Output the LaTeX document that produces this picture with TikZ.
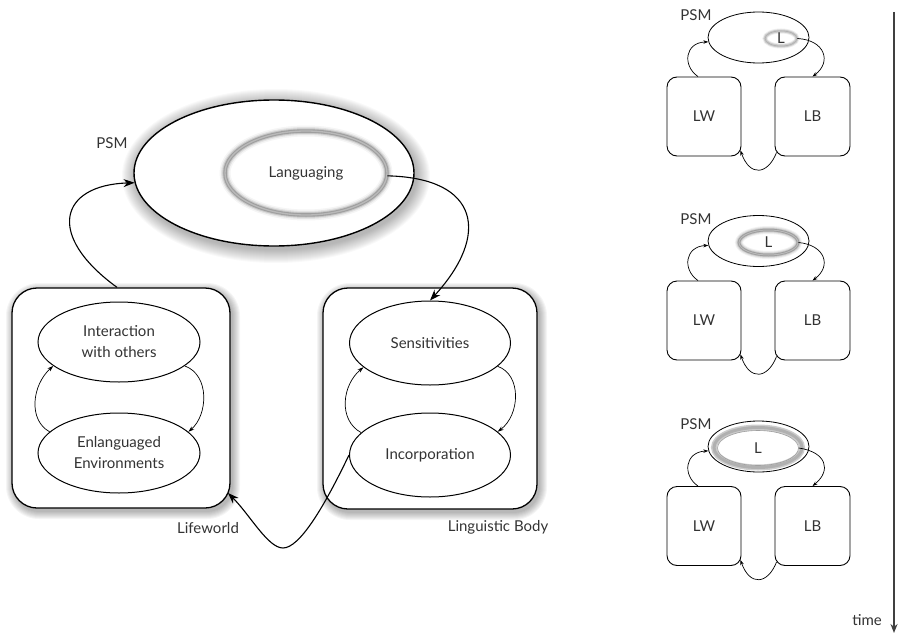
\documentclass[tikz,border=0pt]{standalone}
\usepackage{fontspec}
\setmainfont{Lato}
\usetikzlibrary{shapes.geometric,arrows.meta}
\begin{document}
\begin{tikzpicture}[x=1pt,y=-1pt,
  font=\fontsize{15}{21}\selectfont, text=black!80,
  ell/.style={ellipse, draw, line width=1pt, fill=white, inner sep=0pt, align=center},
  bigbox/.style={draw, line width=1.3pt, fill=white, rounded corners=25pt, inner sep=0pt},
  sbox/.style={draw, line width=0.9pt, fill=white, rounded corners=10pt, inner sep=0pt, minimum height=79pt},
  lab/.style={inner sep=0pt},
  bigarrow/.style={line width=1.1pt, -{Stealth[length=11pt,width=8pt]}},
  midarrow/.style={line width=0.7pt, -{Stealth[length=6pt,width=4pt]}},
  smallarrow/.style={line width=0.7pt, -{Stealth[length=5pt,width=3.5pt]}}]
\useasboundingbox (0,0) rectangle (899,634);

% ---------- main diagram: shadows ----------
\foreach \k [evaluate=\k as \rx using 140+\k, evaluate=\k as \ry using 73+\k] in {1,...,14}
  {\fill[black,opacity=0.025] (276,176) ellipse [x radius=\rx pt, y radius=\ry pt];}
\foreach \k [evaluate=\k as \r using 25+\k] in {1,...,8}
  {\fill[black,opacity=0.04,rounded corners=\r pt] ({12-\k+2},{288-\k+3}) rectangle ({230+\k+2},{508+\k+3});
   \fill[black,opacity=0.04,rounded corners=\r pt] ({323-\k+2},{288-\k+3}) rectangle ({537+\k+2},{509+\k+3});}

% ---------- main diagram: nodes ----------
\node[ell, line width=1.4pt, minimum width=280pt, minimum height=146pt] (psm) at (274,173) {};
\foreach \w/\o in {11/0.04, 8/0.07, 5.5/0.12, 3.5/0.2}
  {\draw[line width=\w pt, black, opacity=\o] (306,173) ellipse [x radius=81pt, y radius=42pt];}
\node[ellipse, draw=gray!55, line width=1.3pt, inner sep=0pt, minimum width=162pt, minimum height=84pt] (lang) at (306,173) {Languaging};
\node[lab] (psmlab) at (112,143) {PSM};

\node[bigbox, minimum width=218pt, minimum height=220pt] (lw) at (121,398) {};
\node[bigbox, minimum width=214pt, minimum height=221pt] (lb) at (430,398.5) {};
\node[ell, minimum width=162pt, minimum height=80pt] (int) at (119,342) {Interaction\\with others};
\node[ell, minimum width=162pt, minimum height=80pt] (enl) at (119,453) {Enlanguaged\\Environments};
\node[ell, minimum width=161pt, minimum height=84pt] (sens) at (430,343) {Sensitivities};
\node[ell, minimum width=161pt, minimum height=84pt] (inc) at (430,455) {Incorporation};
\node[lab] (lwlab) at (208,528) {Lifeworld};
\node[lab] (lblab) at (498,527) {Linguistic Body};

% ---------- main diagram: connectors ----------
\draw[bigarrow] ([xshift=-4pt]lw.north) .. controls (45,235) and (60,185) .. (psm.184);
\draw[bigarrow] (lang.-2) .. controls (480,178) and (490,235) .. (sens.north);
\coordinate (bot) at (283,548);
\coordinate (lwtip) at (228,493);
\draw[bigarrow] (inc.west) .. controls (325,505) and (300,548) .. (bot) .. controls (268,548) and (250,515) .. (lwtip);
\draw[midarrow] (enl.163) .. controls (28,420) and (32,385) .. (int.200);
\draw[midarrow] (int.-20) .. controls (210,375) and (208,415) .. (enl.17);
\draw[midarrow] (inc.162) .. controls (338,420) and (342,385) .. (sens.200);
\draw[midarrow] (sens.-19) .. controls (522,375) and (520,415) .. (inc.19);

% ---------- right column: three panels ----------
\foreach \n/\py/\by in {a/37.5/116.5, b/241/320.5, c/446.5/526} {
  \node[ell, line width=0.8pt, minimum width=101pt, minimum height=51pt] (psm\n) at (758.5,\py) {};
  \node[lab] (psmlab\n) at (696,{\py-22}) {PSM};
  \node[sbox, minimum width=74pt] (lw\n) at (704,\by) {LW};
  \node[sbox, minimum width=75pt] (lb\n) at (812.5,\by) {LB};
  \draw[smallarrow] ([xshift=-6pt]lw\n.north) .. controls (682,{\by-51}) and (685,{\by-74}) .. (psm\n.185);
  \draw[smallarrow] ([shift={(2,-4)}]lb\n.south west) .. controls (768,{\by+58}) and (750,{\by+61}) .. ([shift={(-1,-6)}]lw\n.south east);
}
% L in panel 1
\foreach \w/\o in {5/0.07, 3/0.14}
  {\draw[line width=\w pt, black, opacity=\o] (781,38.5) ellipse [x radius=16pt, y radius=7.5pt];}
\node[ellipse, draw=gray!60, line width=0.8pt, inner sep=0pt, minimum width=32pt, minimum height=15pt] (la) at (781,38.5) {L};
% L in panel 2
\foreach \w/\o in {8/0.05, 6/0.08, 4/0.13, 2.5/0.2}
  {\draw[line width=\w pt, black, opacity=\o] (768.5,242.5) ellipse [x radius=29.5pt, y radius=12.5pt];}
\node[ellipse, draw=gray!55, line width=1pt, inner sep=0pt, minimum width=59pt, minimum height=25pt] (lb2) at (768.5,242.5) {L};
% L in panel 3
\draw[line width=6pt, gray!40] (758,447.5) ellipse [x radius=44pt, y radius=20pt];
\draw[line width=3pt, gray!62] (758,447.5) ellipse [x radius=44pt, y radius=20pt];
\node[ellipse, draw=gray!75, line width=0.6pt, inner sep=0pt, minimum width=81pt, minimum height=35pt] (lc) at (758,448) {L};

\draw[smallarrow] (la.east) .. controls (825,40) and (832,62) .. (lba.north);
\draw[smallarrow] (lb2.east) .. controls (825,245) and (832,266) .. (lbb.north);
\draw[smallarrow] (lc.east) .. controls (826,452) and (832,470) .. (lbc.north);

% ---------- time axis ----------
\coordinate (t0) at (894,12);
\coordinate (t1) at (894,633);
\draw[line width=2.2pt, black!75, -{Stealth[length=9pt,width=7pt]}] (t0) -- (t1);
\node[lab] (timelab) at (867,620) {time};
\end{tikzpicture}
\end{document}
